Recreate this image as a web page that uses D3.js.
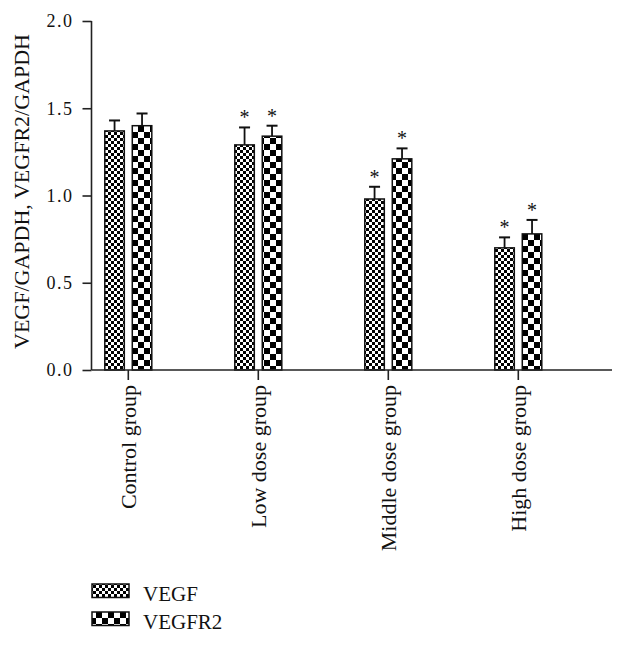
<!DOCTYPE html>
<html><head><meta charset="utf-8">
<script src="https://cdn.jsdelivr.net/npm/d3@7"></script>
<style>body{margin:0;background:#fff}svg{display:block}text{font-family:"Liberation Serif","DejaVu Serif",serif;fill:#111}</style>
</head><body>
<script>
const categories = ["Control group","Low dose group","Middle dose group","High dose group"];
const series = ["VEGF","VEGFR2"];
const vegf = [1.37, 1.29, 0.98, 0.70];
const vegfErr = [0.06, 0.10, 0.07, 0.06];
const vegfr2 = [1.40, 1.34, 1.21, 0.78];
const vegfr2Err = [0.07, 0.06, 0.06, 0.08];
const vegfSig = [false, true, true, true];
const vegfr2Sig = [false, true, true, true];
const yTicks = [0, 0.5, 1.0, 1.5, 2.0];

const W = 626, H = 646;
const svg = d3.select("body").append("svg").attr("width", W).attr("height", H);
const defs = svg.append("defs");
function checker(id, s) {
  const p = defs.append("pattern").attr("id", id).attr("patternUnits", "userSpaceOnUse")
    .attr("width", 2*s).attr("height", 2*s);
  p.append("rect").attr("width", 2*s).attr("height", 2*s).attr("fill", "#fff");
  p.append("rect").attr("width", s).attr("height", s).attr("fill", "#000");
  p.append("rect").attr("x", s).attr("y", s).attr("width", s).attr("height", s).attr("fill", "#000");
}
checker("pSmall", 3);
checker("pBig", 6);
const fills = {VEGF: "url(#pSmall)", VEGFR2: "url(#pBig)"};

const y = d3.scaleLinear().domain([0, 2]).range([370, 21]);
const x0 = d3.scaleBand().domain(categories).range([63.3, 583.3]).padding(0);
const x1 = d3.scaleBand().domain(series).range([-23.5, 23.5]).paddingInner(0.29);

const data = categories.flatMap((c, i) => [
  {c, s: "VEGF", v: vegf[i], e: vegfErr[i], sig: vegfSig[i]},
  {c, s: "VEGFR2", v: vegfr2[i], e: vegfr2Err[i], sig: vegfr2Sig[i]}
]);

const g = svg.append("g");
data.forEach(d => {
  const cx = x0(d.c) + x0.bandwidth()/2 + x1(d.s) + x1.bandwidth()/2;
  g.append("line").attr("x1", cx).attr("x2", cx).attr("y1", y(d.v)).attr("y2", y(d.v + d.e))
    .attr("stroke", "#111").attr("stroke-width", 1.8);
  g.append("line").attr("x1", cx - 5.5).attr("x2", cx + 5.5).attr("y1", y(d.v + d.e)).attr("y2", y(d.v + d.e))
    .attr("stroke", "#111").attr("stroke-width", 2);
  if (d.sig) g.append("text").attr("x", cx).attr("y", y(d.v + d.e) - 3).attr("text-anchor", "middle")
    .attr("font-size", 20).text("*");
});
g.selectAll("rect.bar").data(data).join("rect").attr("class", "bar")
  .attr("x", d => x0(d.c) + x0.bandwidth()/2 + x1(d.s))
  .attr("width", x1.bandwidth())
  .attr("y", d => y(d.v))
  .attr("height", d => y(0) - y(d.v))
  .attr("fill", d => fills[d.s])
  .attr("stroke", "#111").attr("stroke-width", 1.5);

const ya = svg.append("g").attr("transform", "translate(91.5,0)")
  .call(d3.axisLeft(y).tickValues(yTicks).tickFormat(d3.format(".1f")).tickSize(9).tickPadding(9));
ya.attr("font-family", null);
ya.select(".domain").attr("stroke", "#222").attr("stroke-width", 1.6).attr("d", `M0,${y(2)}V${y(0)}`);
ya.selectAll(".tick line").attr("stroke", "#222").attr("stroke-width", 1.6);
ya.selectAll(".tick text").attr("font-size", 18).attr("letter-spacing", "1.5px")
  .attr("font-family", "Liberation Serif, serif").attr("fill", "#111");

const xa = svg.append("g").attr("transform", `translate(0,${y(0)})`)
  .call(d3.axisBottom(x0).tickSize(10).tickSizeOuter(0));
xa.attr("font-family", null);
xa.select(".domain").attr("stroke", "#222").attr("stroke-width", 1.6).attr("d", "M91.5,0H612");
xa.selectAll(".tick line").attr("stroke", "#222").attr("stroke-width", 1.6);
xa.selectAll(".tick text").attr("font-size", 22).attr("font-family", "Liberation Serif, serif").attr("fill", "#111")
  .attr("text-anchor", "end").attr("transform", "translate(0,5) rotate(-90)")
  .attr("x", -10).attr("y", 0).attr("dy", "0.35em");

svg.append("text").attr("transform", `translate(29,${(y(0)+y(2))/2 - 4}) rotate(-90)`)
  .attr("text-anchor", "middle").attr("font-size", 22).text("VEGF/GAPDH, VEGFR2/GAPDH");

const leg = svg.append("g");
series.forEach((s, i) => {
  const ly = 584 + i * 28;
  leg.append("rect").attr("x", 92).attr("y", ly).attr("width", 37).attr("height", 13.5)
    .attr("fill", fills[s]).attr("stroke", "#111").attr("stroke-width", 1.5);
  leg.append("text").attr("x", 143).attr("y", ly + 17).attr("font-size", 21).text(s);
});
</script>
</body></html>
